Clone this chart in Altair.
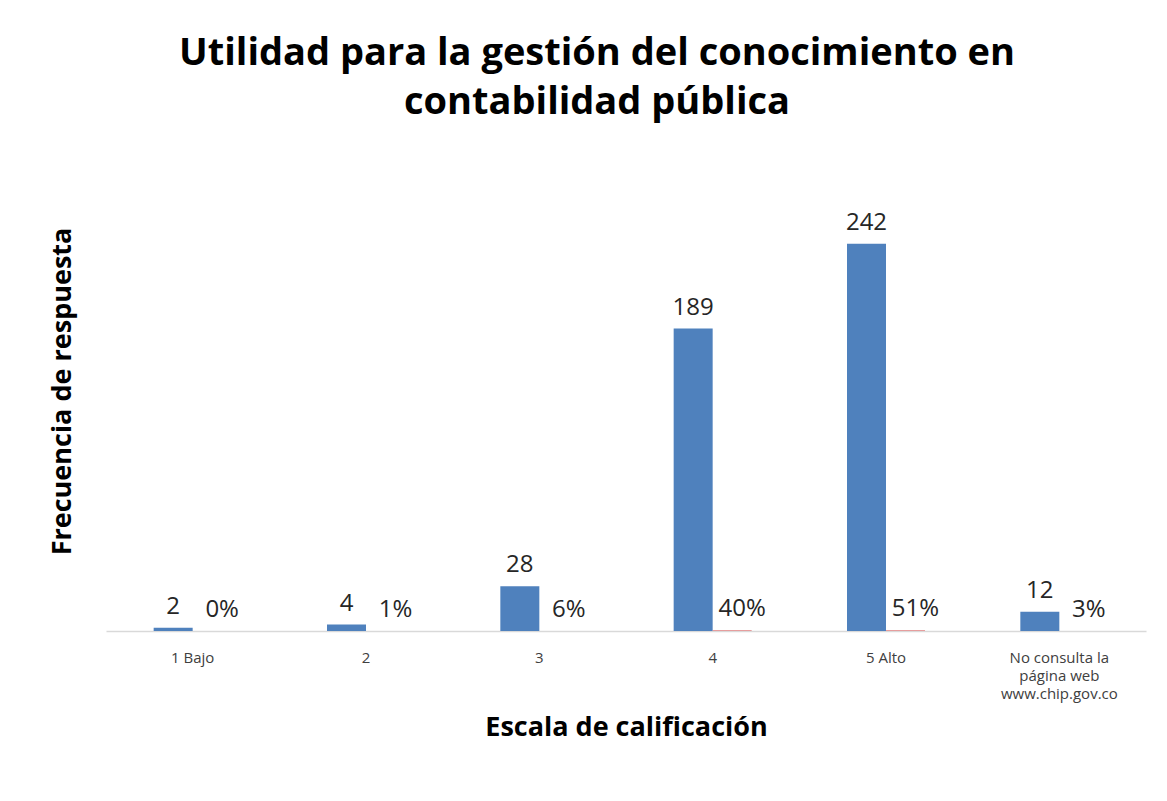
import altair as alt
import pandas as pd

categories = ["1 Bajo", "2", "3", "4", "5 Alto", "No consulta la|página web|www.chip.gov.co"]
frecuencia = [2, 4, 28, 189, 242, 12]
porcentaje = [0.004, 0.008, 0.059, 0.396, 0.507, 0.0252]
series_names = ["Frecuencia", "Porcentaje"]

rows = []
for c, f, p in zip(categories, frecuencia, porcentaje):
    rows.append({"cat": c, "serie": series_names[0], "valor": f, "etiqueta": f"{f}"})
    rows.append({"cat": c, "serie": series_names[1], "valor": p, "etiqueta": f"{round(p*100):.0f}%"})
df = pd.DataFrame(rows)

FONT = "Open Sans"

x = alt.X("cat:N", sort=categories, title="Escala de calificación",
          scale=alt.Scale(paddingInner=0.55, paddingOuter=0.275),
          axis=alt.Axis(labelAngle=0, labelExpr="split(datum.label, '|')",
                        labelFontSize=15, labelColor="#404040", labelFont=FONT,
                        labelPadding=19, labelLineHeight=18, ticks=False,
                        domainColor="#D9D9D9", domainWidth=1.5,
                        titleFontSize=27, titleFont=FONT, titleFontWeight="bold",
                        titleColor="#000000", titlePadding=13))
y = alt.Y("valor:Q", scale=alt.Scale(domain=[0, 300], nice=False),
          title="Frecuencia de respuesta",
          axis=alt.Axis(labels=False, ticks=False, domain=False, grid=False,
                        titleFontSize=27, titleFont=FONT, titleFontWeight="bold",
                        titleColor="#000000", titlePadding=30))
xo = alt.XOffset("serie:N", sort=series_names)

bars = alt.Chart(df).mark_bar().encode(
    x=x, y=y, xOffset=xo,
    color=alt.Color("serie:N", sort=series_names,
                    scale=alt.Scale(domain=series_names, range=["#4F81BD", "#E08080"]),
                    legend=None),
)
text_f = alt.Chart(df).transform_filter(alt.datum.serie == series_names[0]).mark_text(
    baseline="alphabetic", dy=-14, fontSize=24, font=FONT, color="#262626").encode(
    x=x, y=y, xOffset=xo, text="etiqueta:N"
)
text_p = alt.Chart(df).transform_filter(alt.datum.serie == series_names[1]).mark_text(
    baseline="alphabetic", dy=-14, dx=10, fontSize=24, font=FONT, color="#262626").encode(
    x=x, y=y, xOffset=xo, text="etiqueta:N"
)

chart = (bars + text_f + text_p).properties(
    width=1040, height=480,
    title=alt.TitleParams(["Utilidad para la gestión del conocimiento en", "contabilidad pública"],
                          fontSize=38, font=FONT, fontWeight="bold", color="#000000",
                          anchor="middle", frame="bounds", offset=29, lineHeight=49),
    padding={"top": 27, "left": 40, "right": 10, "bottom": 10},
).configure(background="white").configure_view(stroke=None, strokeWidth=0)

chart.save("out.html", embed_options={"renderer": "svg", "actions": False})
